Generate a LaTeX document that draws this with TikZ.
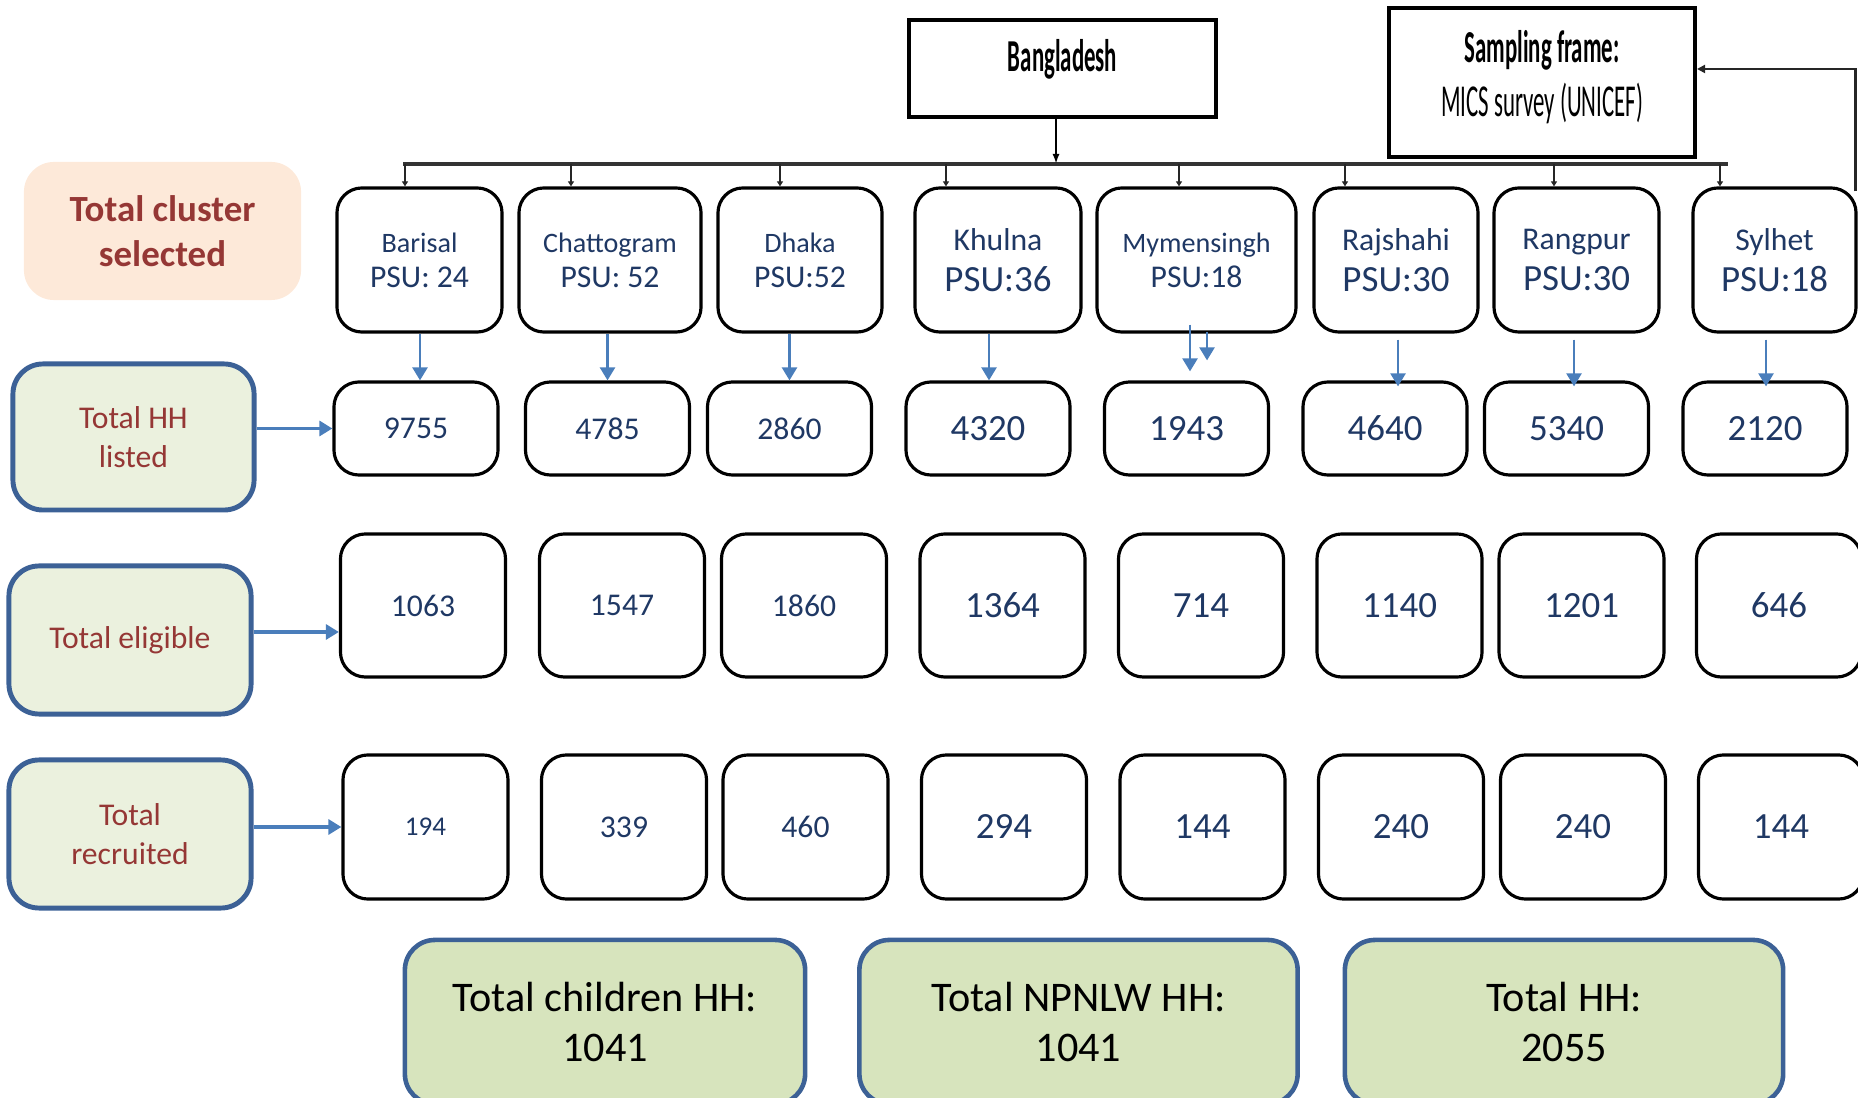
\documentclass[tikz,border=0pt]{standalone}
\usepackage{fontspec}
\setmainfont{Carlito}
\newfontfamily\narrowfont[FakeStretch=0.5]{Carlito}
\usetikzlibrary{arrows.meta,calc}

\definecolor{navytext}{HTML}{1F3864}
\definecolor{redtext}{HTML}{953735}
\definecolor{peachfill}{HTML}{FDE9D9}
\definecolor{labelfill}{HTML}{EBF1DE}
\definecolor{labelline}{HTML}{3C6196}
\definecolor{arrowblue}{HTML}{4A7EBB}
\definecolor{totalfill}{HTML}{D7E4BD}

\newcommand{\fsS}{\fontsize{8}{10}\selectfont}
\newcommand{\fsM}{\fontsize{9}{10}\selectfont}
\newcommand{\fsL}{\fontsize{10.5}{11.7}\selectfont}

\tikzset{
  district/.style={draw, line width=0.9pt, rounded corners=0.25cm, minimum height=1.44cm,
    align=center, text=navytext, inner sep=0pt},
  numbox/.style={district, minimum width=1.64cm, minimum height=0.93cm},
  cellbox/.style={district, minimum width=1.65cm, minimum height=1.44cm},
  sidelabel/.style={draw=labelline, line width=1.4pt, fill=labelfill, rounded corners=0.3cm,
    align=center, text=redtext, inner sep=0pt, font=\fontsize{9}{11}\selectfont},
  totalbox/.style={draw=labelline, line width=1.3pt, fill=totalfill, rounded corners=0.3cm,
    align=center, minimum height=1.64cm, inner sep=0pt, font=\fontsize{12}{14}\selectfont},
  topbox/.style={draw, line width=1.1pt, align=center, inner sep=0pt,
    font=\narrowfont\fontsize{13}{15.4}\selectfont},
  varrow/.style={draw=arrowblue, line width=0.7pt, -{Triangle[length=0.13cm,width=0.15cm]}},
  harrow/.style={draw=arrowblue, line width=0.9pt, -{Triangle[length=0.13cm,width=0.15cm]}},
  tickline/.style={draw=black!85, line width=0.5pt, -{Triangle[length=0.05cm,width=0.06cm]}}
}

\begin{document}
\begin{tikzpicture}[x=0.01cm, y=-0.01cm]
\useasboundingbox (0,0) rectangle (1858,1098);

% top boxes
\node (bangladesh) at (1062.5,68.5) [topbox, minimum width=3.07cm, minimum height=0.97cm,
  text depth=0.26cm] {\bfseries Bangladesh};
\node (frame) at (1542,82.5) [topbox, minimum width=3.06cm, minimum height=1.49cm,
  text depth=0.18cm] {{\bfseries Sampling frame:}\\MICS survey (UNICEF)};

\coordinate (busL) at (403,164);
\coordinate (busR) at (1728,164);
\draw[line width=1.1pt, black!80] (busL) -- (busR);
\draw[line width=0.6pt, -{Latex[length=0.1cm,width=0.07cm]}]
  ([xshift=-0.065cm]bangladesh.south) -- ([xshift=-0.065cm]bangladesh.south |- busL);

% districts
\node (barisal) at (419.5,260) [district, minimum width=1.65cm, font=\fsM] {{\fsS Barisal}\\PSU: 24};
\node (chattogram) at (610,260) [district, minimum width=1.82cm, font=\fsM] {{\fsS Chattogram}\\PSU: 52};
\node (dhaka) at (800,260) [district, minimum width=1.64cm, font=\fsM] {{\fsS Dhaka}\\PSU:52};
\node (khulna) at (998,260) [district, minimum width=1.66cm, font=\fsL] {{\fsM Khulna}\\PSU:36};
\node (mymensingh) at (1196.5,260) [district, minimum width=1.99cm, font=\fsM] {{\fsS Mymensingh}\\PSU:18};
\node (rajshahi) at (1396,260) [district, minimum width=1.64cm, font=\fsL] {{\fsM Rajshahi}\\PSU:30};
\node (rangpur) at (1576.5,260) [district, minimum width=1.65cm, font=\fsL] {{\fsM Rangpur}\\PSU:30};
\node (sylhet) at (1774.5,260) [district, minimum width=1.63cm, font=\fsL] {{\fsM Sylhet}\\PSU:18};

\foreach \n/\s in {barisal/-0.145, chattogram/-0.39, dhaka/-0.2, khulna/-0.52,
    mymensingh/-0.175, rajshahi/-0.51, rangpur/-0.225, sylhet/-0.545}
  \draw[tickline] ([xshift=\s cm]\n.north |- busL) -- ([xshift=\s cm]\n.north);

\draw[line width=0.8pt, black!85, -{Triangle[length=0.08cm,width=0.08cm]}]
  ([xshift=-0.02cm,yshift=-0.05cm]sylhet.north east) |- ([yshift=0.135cm]frame.east);

% side labels
\node (cluster) at (162.5,231) [sidelabel, draw=none, fill=peachfill, minimum width=2.77cm,
  minimum height=1.38cm, font=\bfseries\fontsize{10.5}{12.8}\selectfont] {Total cluster\\selected};
\node (hhlab) at (133.5,437) [sidelabel, minimum width=2.41cm, minimum height=1.46cm] {Total HH\\listed};
\node (ellab) at (130,640) [sidelabel, minimum width=2.42cm, minimum height=1.48cm] {Total eligible};
\node (reclab) at (130,834) [sidelabel, minimum width=2.42cm, minimum height=1.48cm] {Total\\recruited};

% households listed
\node (hh1) at (416,428.5) [numbox, font=\fsM] {9755};
\node (hh2) at (607.5,428.5) [numbox, font=\fsM] {4785};
\node (hh3) at (789.5,428.5) [numbox, font=\fsM] {2860};
\node (hh4) at (988,428.5) [numbox, font=\fsL] {4320};
\node (hh5) at (1186.5,428.5) [numbox, font=\fsL] {1943};
\node (hh6) at (1385,428.5) [numbox, font=\fsL] {4640};
\node (hh7) at (1566.5,428.5) [numbox, font=\fsL] {5340};
\node (hh8) at (1765,428.5) [numbox, font=\fsL] {2120};

% eligible
\node (el1) at (423,605.5) [cellbox, minimum height=1.43cm, font=\fsM] {1063};
\node (el2) at (622,605.5) [cellbox, minimum height=1.43cm, font=\fsM] {1547};
\node (el3) at (804,605.5) [cellbox, minimum height=1.43cm, font=\fsM] {1860};
\node (el4) at (1002.5,605.5) [cellbox, minimum height=1.43cm, font=\fsL] {1364};
\node (el5) at (1201,605.5) [cellbox, minimum height=1.43cm, font=\fsL] {714};
\node (el6) at (1399.5,605.5) [cellbox, minimum height=1.43cm, font=\fsL] {1140};
\node (el7) at (1581.5,605.5) [cellbox, minimum height=1.43cm, font=\fsL] {1201};
\node (el8) at (1779,605.5) [cellbox, minimum height=1.43cm, font=\fsL] {646};

% recruited
\node (rec1) at (425.5,827) [cellbox, font=\fontsize{7.7}{9}\selectfont] {194};
\node (rec2) at (624,827) [cellbox, font=\fsM] {339};
\node (rec3) at (805.5,827) [cellbox, font=\fsM] {460};
\node (rec4) at (1004,827) [cellbox, font=\fsL] {294};
\node (rec5) at (1202.5,827) [cellbox, font=\fsL] {144};
\node (rec6) at (1401,827) [cellbox, font=\fsL] {240};
\node (rec7) at (1583,827) [cellbox, font=\fsL] {240};
\node (rec8) at (1781,827) [cellbox, font=\fsL] {144};

% arrows
\foreach \d/\h/\s in {barisal/hh1/0.04, chattogram/hh2/0, dhaka/hh3/0, khulna/hh4/0.01}
  \draw[varrow] ([xshift=\s cm]\d.south -| \h.north) -- ([xshift=\s cm]\h.north);
\foreach \d/\h/\s in {rajshahi/hh6/0.13, rangpur/hh7/0.075, sylhet/hh8/0.01}
  \draw[varrow] ([xshift=\s cm,yshift=-0.06cm]\d.south -| \h.north) -- ([xshift=\s cm,yshift=-0.06cm]\h.north);
\draw[varrow] ([xshift=0.035cm,yshift=0.09cm]mymensingh.south -| hh5.north)
  -- ([xshift=0.035cm,yshift=0.09cm]hh5.north);
\draw[varrow] ([xshift=0.205cm,yshift=0.02cm]mymensingh.south -| hh5.north)
  -- ([xshift=0.205cm,yshift=0.2cm]hh5.north);

\draw[harrow] (hhlab.east |- hh1) -- (hh1.west);
\draw[harrow] ([yshift=0.08cm]ellab.east) -- ([yshift=0.08cm]ellab.east -| el1.west);
\draw[harrow] (reclab.east |- rec1) -- (rec1.west);

% totals
\node (children) at (605,1022) [totalbox, minimum width=4cm] {Total children HH:\\1041};
\node (npnlw) at (1078.5,1022) [totalbox, minimum width=4.38cm] {Total NPNLW HH:\\1041};
\node (allhh) at (1564,1022) [totalbox, minimum width=4.38cm] {Total HH:\\2055};

\end{tikzpicture}
\end{document}
